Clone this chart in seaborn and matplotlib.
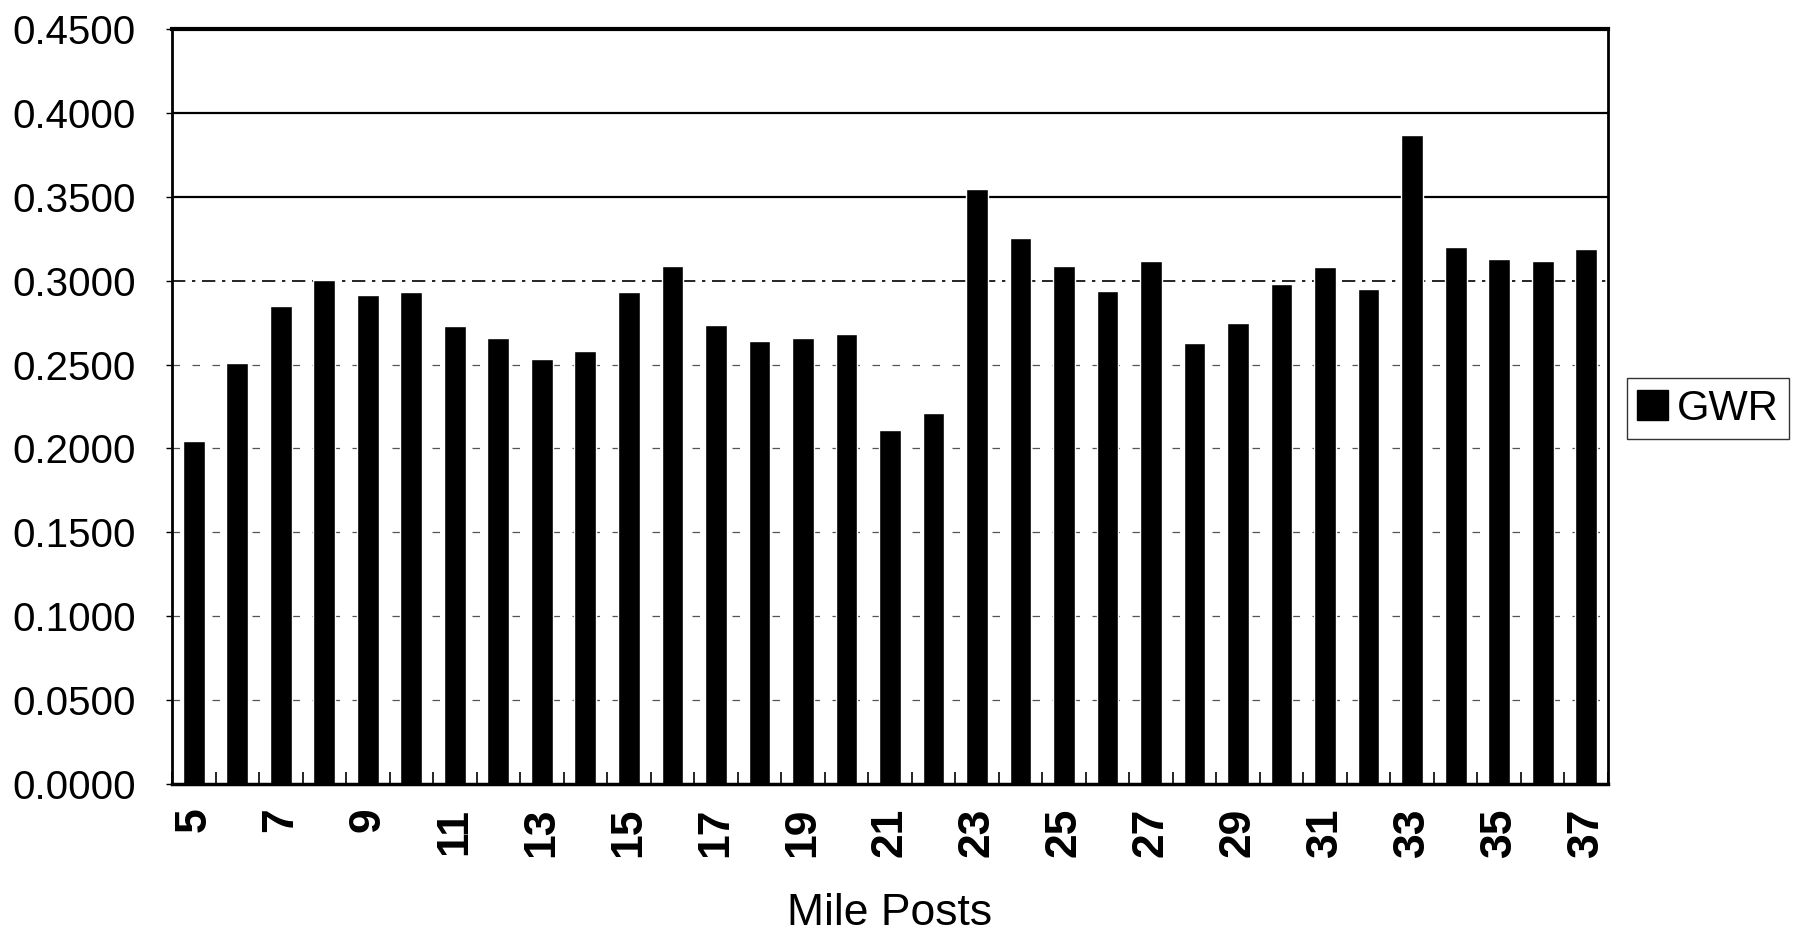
import numpy as np
import pandas as pd
import matplotlib
matplotlib.use("Agg")
import matplotlib.pyplot as plt
import seaborn as sns

# GWR value at each mile post
mile_posts = list(range(5, 38))
gwr = [0.2046, 0.2507, 0.2852, 0.3004, 0.2916, 0.2930, 0.2731, 0.2661, 0.2533,
       0.2583, 0.2934, 0.3086, 0.2735, 0.2643, 0.2661, 0.2685, 0.2112, 0.2212,
       0.3545, 0.3253, 0.3090, 0.2936, 0.3116, 0.2629, 0.2745, 0.2982, 0.3082,
       0.2952, 0.3868, 0.3198, 0.3132, 0.3116, 0.3186]
y_ticks = [0.0, 0.05, 0.10, 0.15, 0.20, 0.25, 0.30, 0.35, 0.40, 0.45]
series_name = "GWR"
x_title = "Mile Posts"

sns.set_theme(style="white")
plt.rcParams["font.family"] = ["Liberation Sans", "DejaVu Sans"]
plt.rcParams.update({"text.color": "black", "axes.labelcolor": "black",
                     "xtick.color": "black", "ytick.color": "black"})

df = pd.DataFrame({"mile": [str(m) for m in mile_posts], "value": gwr})

fig = plt.figure(figsize=(18.01, 9.36), dpi=100)
ax = fig.add_axes([0.0955, 0.1624, 0.7973, 0.8066])

# gridlines behind the bars
for yv in y_ticks[1:-1]:
    if yv >= 0.35:
        ax.axhline(yv, color="black", lw=1.6, zorder=0)
    elif yv >= 0.30:
        ax.axhline(yv, color="black", lw=1.2, ls=(0, (8, 4, 2, 4)), zorder=0)
    else:
        ax.axhline(yv, color="#555555", lw=0.9, ls=(0, (6, 10)), zorder=0)

sns.barplot(data=df, x="mile", y="value", color="black", width=0.5,
            saturation=1, ax=ax, zorder=2)

ax.set_xlim(-0.5, len(mile_posts) - 0.5)
ax.set_ylim(0, 0.45)
ax.set_yticks(y_ticks)
ax.set_yticklabels([f"{v:.4f}" for v in y_ticks], fontsize=29)

ax.set_xticks(range(len(mile_posts)))
ax.set_xticklabels([str(m) if m % 2 == 1 else "" for m in mile_posts],
                   rotation=90, fontsize=32, fontweight="bold")
ax.set_xticks(np.arange(-0.5, len(mile_posts), 1.0), minor=True)
ax.tick_params(axis="x", which="major", length=0, pad=17)
ax.tick_params(axis="x", which="minor", direction="in", length=9, width=1.2,
               color="black", bottom=True)
ax.tick_params(axis="y", which="major", length=4, width=1, color="black",
               left=True, pad=22)

ax.set_xlabel(x_title, fontsize=32, labelpad=26)
ax.set_ylabel("")

for side in ["left", "right", "top", "bottom"]:
    ax.spines[side].set_visible(True)
    ax.spines[side].set_color("black")
ax.spines["top"].set_linewidth(3)
ax.spines["bottom"].set_linewidth(2.5)
ax.spines["left"].set_linewidth(2)
ax.spines["right"].set_linewidth(2)

handle = plt.Rectangle((0, 0), 1, 1, facecolor="black", edgecolor="black")
leg = ax.legend([handle], [series_name], loc="center left",
                bbox_to_anchor=(1.013, 0.497), fontsize=30, frameon=True,
                fancybox=False, handlelength=0.75, handleheight=0.75,
                handletextpad=0.2, borderpad=0.25, borderaxespad=0)
leg.get_frame().set_edgecolor("black")
leg.get_frame().set_linewidth(1)

fig.savefig("out.png", dpi=100, facecolor="white")
